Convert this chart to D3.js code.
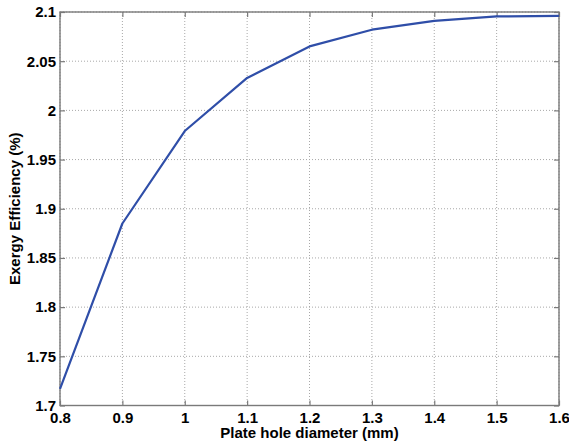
<!DOCTYPE html>
<html>
<head>
<meta charset="utf-8">
<script src="https://cdn.jsdelivr.net/npm/d3@7"></script>
<style>
  html, body { margin: 0; padding: 0; background: white; }
  svg { display: block; }
</style>
</head>
<body>
<script>
// データ
const diameters = [0.8, 0.9, 1.0, 1.1, 1.2, 1.3, 1.4, 1.5, 1.6];
const efficiency = [1.717, 1.885, 1.979, 2.033, 2.065, 2.082, 2.091, 2.0955, 2.096];
const xTicks = [0.8, 0.9, 1, 1.1, 1.2, 1.3, 1.4, 1.5, 1.6];
const yTicks = [1.7, 1.75, 1.8, 1.85, 1.9, 1.95, 2, 2.05, 2.1];

const width = 569, height = 446;
const margin = { top: 12, right: 10, bottom: 40.5, left: 60 };
const iw = width - margin.left - margin.right;
const ih = height - margin.top - margin.bottom;

const svg = d3.select("body").append("svg")
  .attr("width", width)
  .attr("height", height)
  .style("font-family", "'Liberation Sans', Arial, sans-serif");

const g = svg.append("g").attr("transform", `translate(${margin.left},${margin.top})`);

const x = d3.scaleLinear().domain([0.8, 1.6]).range([0, iw]);
const y = d3.scaleLinear().domain([1.7, 2.1]).range([ih, 0]);

// グリッド
g.append("g").selectAll("line").data(xTicks).join("line")
  .attr("x1", d => x(d)).attr("x2", d => x(d))
  .attr("y1", 0).attr("y2", ih)
  .attr("stroke", "#a8a8a8").attr("stroke-width", 1)
  .attr("stroke-dasharray", "1,2");
g.append("g").selectAll("line").data(yTicks).join("line")
  .attr("y1", d => y(d)).attr("y2", d => y(d))
  .attr("x1", 0).attr("x2", iw)
  .attr("stroke", "#a8a8a8").attr("stroke-width", 1)
  .attr("stroke-dasharray", "1,2");

// 軸
const fmt = d => String(+d.toFixed(2));
g.append("g").attr("transform", `translate(0,${ih})`)
  .call(d3.axisBottom(x).tickValues(xTicks).tickSize(-5).tickPadding(6.5).tickFormat(fmt));
g.append("g")
  .call(d3.axisLeft(y).tickValues(yTicks).tickSize(-5).tickPadding(4).tickFormat(fmt));
g.append("g")
  .call(d3.axisTop(x).tickValues(xTicks).tickSize(-5).tickFormat(""));
g.append("g").attr("transform", `translate(${iw},0)`)
  .call(d3.axisRight(y).tickValues(yTicks).tickSize(-5).tickFormat(""));

g.selectAll(".domain").remove();
g.selectAll(".tick line").attr("stroke", "#7a7a7a").attr("stroke-width", 1.2);
g.selectAll(".tick text")
  .attr("fill", "#000")
  .attr("font-size", "15px")
  .attr("font-weight", "bold");

// 枠
g.append("rect")
  .attr("x", 0).attr("y", 0).attr("width", iw).attr("height", ih)
  .attr("fill", "none").attr("stroke", "#7a7a7a").attr("stroke-width", 1.4);

// 曲線
const line = d3.line().x((d, i) => x(diameters[i])).y(d => y(d));
g.append("path")
  .datum(efficiency)
  .attr("d", line)
  .attr("fill", "none")
  .attr("stroke", "#2f4ea8")
  .attr("stroke-width", 2.2)
  .attr("stroke-linejoin", "round");

// 軸ラベル
svg.append("text")
  .attr("x", margin.left + iw / 2)
  .attr("y", 438)
  .attr("text-anchor", "middle")
  .attr("font-size", "15px")
  .attr("font-weight", "bold")
  .text("Plate hole diameter (mm)");

svg.append("text")
  .attr("transform", `translate(20,${margin.top + ih / 2}) rotate(-90)`)
  .attr("text-anchor", "middle")
  .attr("font-size", "15px")
  .attr("font-weight", "bold")
  .text("Exergy Efficiency (%)");
</script>
</body>
</html>
